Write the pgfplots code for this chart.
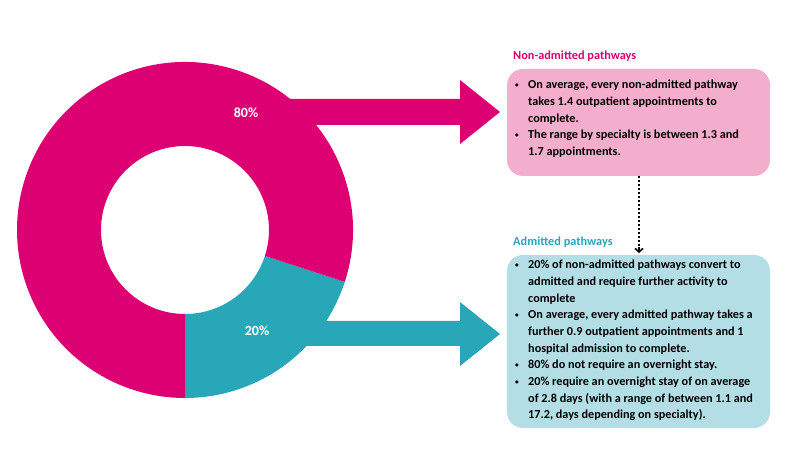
\documentclass[border=0pt]{standalone}
\usepackage{pgfplots}
\pgfplotsset{compat=1.18}
\usepackage{pgfplotstable}
\usepackage{fontspec}
\setmainfont{Carlito}
\usetikzlibrary{arrows.meta}
\definecolor{mag}{HTML}{DC0073}
\definecolor{tea}{HTML}{28A7B8}
\definecolor{pinkbox}{HTML}{F4AECD}
\definecolor{bluebox}{HTML}{B4DEE6}
\pgfplotstableread{
label value
Non-admitted 80
Admitted 20
}\donutdata
\pgfplotstablegetelem{0}{value}\of\donutdata \let\vNon\pgfplotsretval
\pgfplotstablegetelem{1}{value}\of\donutdata \let\vAdm\pgfplotsretval
\pgfmathsetmacro\aStart{-90}
\pgfmathsetmacro\aMid{-90+360*\vAdm/(\vAdm+\vNon)}
\pgfmathsetmacro\aEnd{270}
\newcommand\bul{\raisebox{0.12em}{\scalebox{0.6}{\textbullet}}}
\newcommand\txt{\fontsize{12.2bp}{16.7bp}\selectfont\bfseries}
\begin{document}
\begin{tikzpicture}[x=1bp,y=1bp]
\useasboundingbox (0,0) rectangle (790,463);
% arrows (behind donut)
\fill[mag] (280,364) -- (460,364) -- (460,383) -- (500,351) -- (460,319) -- (460,338) -- (280,338) -- cycle;
\fill[tea] (280,142) -- (460,142) -- (460,161) -- (500,129) -- (460,97) -- (460,117) -- (280,117) -- cycle;
\begin{axis}[at={(0,0)},anchor=south west,width=790bp,height=463bp,scale only axis,
  xmin=0,xmax=790,ymin=0,ymax=463,hide axis,clip=false]
\coordinate (c) at (axis cs:185,233);
\fill[tea] ([shift={(\aStart:168bp)}]c) arc[start angle=\aStart,end angle=\aMid,radius=168bp]
  -- ([shift={(\aMid:84bp)}]c) arc[start angle=\aMid,end angle=\aStart,radius=84bp] -- cycle;
\fill[mag] ([shift={(\aMid:168bp)}]c) arc[start angle=\aMid,end angle=\aEnd,radius=168bp]
  -- ([shift={(\aEnd:84bp)}]c) arc[start angle=\aEnd,end angle=\aMid,radius=84bp] -- cycle;
\node[text=white,font=\fontsize{14bp}{16bp}\selectfont\bfseries] at (axis cs:246,350) {\vNon\%};
\node[text=white,font=\fontsize{14bp}{16bp}\selectfont\bfseries] at (axis cs:257,132) {\vAdm\%};
\end{axis}
% boxes
\fill[pinkbox,rounded corners=16bp] (507,287) rectangle (770,394);
\fill[bluebox,rounded corners=16bp] (507,35) rectangle (770,208);
\node[anchor=base west,inner sep=0,text=mag,font=\fontsize{12.3bp}{14bp}\selectfont\bfseries] at (513,403.5) {Non-admitted pathways};
\node[anchor=base west,inner sep=0,text=tea,font=\fontsize{12.3bp}{14bp}\selectfont\bfseries] at (513,217.5) {Admitted pathways};
\node[anchor=north west,inner sep=0,font=\txt] at (515,386.2) {%
\begin{tabular}{@{}p{13bp}@{}l@{}}
\bul & On average, every non-admitted pathway\\
 & takes 1.4 outpatient appointments to\\
 & complete.\\
\bul & The range by specialty is between 1.3 and\\
 & 1.7 appointments.
\end{tabular}};
\node[anchor=north west,inner sep=0,font=\txt] at (515,206.2) {%
\begin{tabular}{@{}p{13bp}@{}l@{}}
\bul & 20\% of non-admitted pathways convert to\\
 & admitted and require further activity to\\
 & complete\\
\bul & On average, every admitted pathway takes a\\
 & further 0.9 outpatient appointments and 1\\
 & hospital admission to complete.\\
\bul & 80\% do not require an overnight stay.\\
\bul & 20\% require an overnight stay of on average\\
 & of 2.8 days (with a range of between 1.1 and\\
 & 17.2, days depending on specialty).
\end{tabular}};
% dotted connector
\draw[line width=2bp,dash pattern=on 2bp off 2bp] (639,287) -- (639,213);
\draw[line width=1.6bp,-{Straight Barb[length=3.5bp,width=8bp]}] (639,216) -- (639,210);
\end{tikzpicture}
\end{document}
